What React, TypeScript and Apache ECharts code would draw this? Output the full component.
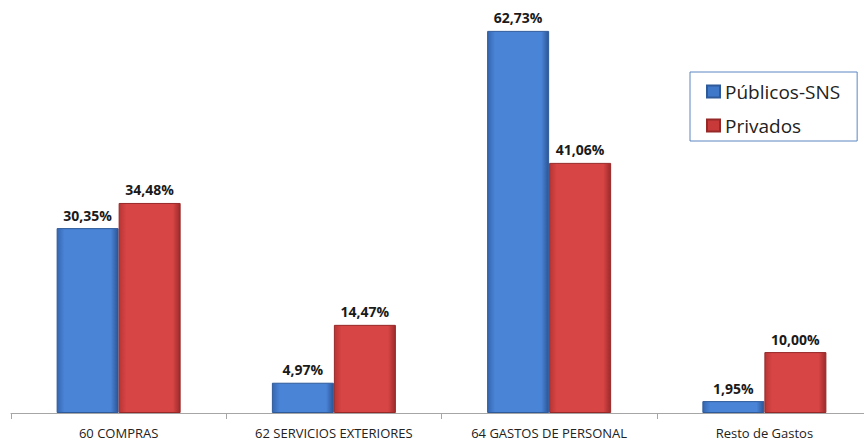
import React, { useEffect, useRef } from "react";
import * as echarts from "echarts";

const categories = ["60 COMPRAS", "62 SERVICIOS EXTERIORES", "64 GASTOS DE PERSONAL", "Resto de Gastos"];
const publicos = [30.35, 4.97, 62.73, 1.95];
const privados = [34.48, 14.47, 41.06, 10.0];
const seriesNames = ["Públicos-SNS", "Privados"];

const fmt = (v: number) => v.toFixed(2).replace(".", ",") + "%";

const blueGrad = new echarts.graphic.LinearGradient(0, 0, 1, 0, [
  { offset: 0, color: "#3566b0" },
  { offset: 0.12, color: "#4a84d6" },
  { offset: 0.88, color: "#4a84d6" },
  { offset: 1, color: "#2c5596" },
]);
const redGrad = new echarts.graphic.LinearGradient(0, 0, 1, 0, [
  { offset: 0, color: "#b83535" },
  { offset: 0.12, color: "#d84545" },
  { offset: 0.88, color: "#d84545" },
  { offset: 1, color: "#9c2a2a" },
]);

export default function App() {
  const ref = useRef<HTMLDivElement>(null);
  useEffect(() => {
    if (!ref.current) return;
    const chart = echarts.init(ref.current, null, { renderer: "svg" });
    const label = {
      show: true,
      position: "top" as const,
      distance: 6,
      formatter: (p: any) => fmt(p.value),
      fontFamily: "Open Sans",
      fontWeight: "bold" as const,
      fontSize: 14,
      color: "#1a1a1a",
    };
    chart.setOption({
      animation: false,
      textStyle: { fontFamily: "Open Sans" },
      legend: {
        orient: "vertical",
        left: 690,
        top: 72,
        borderColor: "#5b86c0",
        borderWidth: 1,
        padding: [10, 17, 6, 16],
        itemGap: 15,
        itemWidth: 13,
        itemHeight: 12,
        icon: "rect",
        textStyle: { fontSize: 19, color: "#222", fontFamily: "Open Sans", padding: [0, 0, 0, 0] },
        data: [
          { name: seriesNames[0], itemStyle: { color: "#3f78c8" } },
          { name: seriesNames[1], itemStyle: { color: "#c83a3a" } },
        ],
      },
      grid: { left: 11, width: 861, top: 0, bottom: 28, containLabel: false, outerBoundsMode: "none" },
      xAxis: {
        type: "category",
        data: categories,
        axisLine: { lineStyle: { color: "#a6a6a6", width: 1 } },
        axisTick: { show: true, length: 6, lineStyle: { color: "#a6a6a6" } },
        axisLabel: { fontSize: 13, color: "#222", margin: 13, fontFamily: "Open Sans" },
      },
      yAxis: { type: "value", min: 0, max: 67.8, show: false, splitLine: { show: false } },
      series: [
        {
          name: seriesNames[0],
          type: "bar",
          data: publicos,
          barWidth: 62,
          barGap: "0%",
          itemStyle: { color: blueGrad, borderColor: "#2e5a9a", borderWidth: 1 },
          label,
        },
        {
          name: seriesNames[1],
          type: "bar",
          data: privados,
          barWidth: 62,
          barGap: "0%",
          itemStyle: { color: redGrad, borderColor: "#962828", borderWidth: 1 },
          label,
        },
      ],
    });
    return () => chart.dispose();
  }, []);
  return <div ref={ref} style={{ width: 864, height: 441, position: "absolute", left: 0, top: 0 }} />;
}
